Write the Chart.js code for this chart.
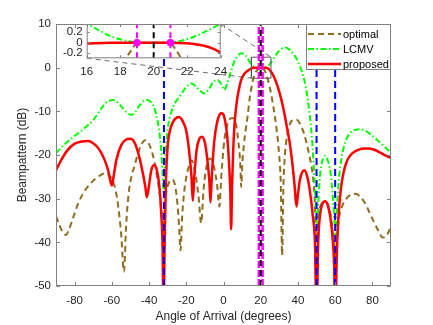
<!DOCTYPE html>
<html>
<head>
<meta charset="utf-8">
<script src="https://cdn.jsdelivr.net/npm/chart.js@4.4.1/dist/chart.umd.min.js"></script>
<style>
  body { margin: 0; background: #fff; }
  #wrap { position: relative; width: 433px; height: 325px; }
  #wrap canvas { position: absolute; left: 0; top: 0; }
</style>
</head>
<body>
<div id="wrap">
  <canvas id="mainChart" width="433" height="325"></canvas>
  <canvas id="zoomChart" width="433" height="325"></canvas>
</div>
<script>
// Axes
const xTicks = [-80, -60, -40, -20, 0, 20, 40, 60, 80];
const yTicks = [-50, -40, -30, -20, -10, 0, 10];
const xRange = [-90, 90];
const yRange = [-50, 10];

// Inset axes
const zoomXTicks = [16, 18, 20, 22, 24];
const zoomYTicks = [-0.2, 0, 0.2];
const zoomXRange = [16, 24];
const zoomYRange = [-0.3, 0.36];

// Reference lines / markers
const interfAngles = [-32, 50, 60];
const targetAngle = 20;
const constraintAngles = [19, 21];
const constraintGain = [0, 0];
const boxX = [15, 25.5];
const boxY = [-2.4, 2.4];

// optimal
const optAngles = [-90, -88, -86.5, -84.6, -83, -80.5, -78, -75, -72, -69, -66, -63.8, -61.5, -59.5, -58, -56.5, -55, -53.5, -52.3, -51, -49.5, -47.8, -46, -44, -42.1, -40.3, -38.5, -37, -35.5, -34.4, -33.3, -32.5, -31.6, -30.5, -29.3, -27.5, -26, -24.8, -23.9, -23.1, -22.2, -21, -19.6, -18.2, -17.2, -16, -14.8, -13.4, -12, -10.8, -9.5, -8.3, -7.2, -6, -4.7, -3.4, -2.2, -1.2, 0, 1.2, 2.5, 4, 5.5, 6.8, 8, 9, 9.5, 10.1, 11, 12, 13, 14, 15, 16, 17, 18, 18.4, 18.7, 19, 20, 21, 21.3, 21.6, 22, 23, 24, 25.5, 27, 28.5, 29.8, 30.8, 31.5, 32.2, 33, 34.2, 35.8, 37.5, 39.5, 41.5, 43.2, 44.8, 46.3, 47.9, 49, 49.8, 50.7, 51.6, 53, 55, 56.8, 58.3, 59.2, 60, 60.8, 62, 63.5, 65.5, 68, 71, 73.5, 76, 78.5, 81, 83.5, 85.5, 87.5, 90];
const optGain = [-34, -36.2, -37.6, -38.3, -37, -34, -31, -28.5, -26.8, -25.5, -24.6, -24.2, -24.6, -26, -28, -32, -38, -46.7, -36, -29, -25, -22.5, -19.7, -17.5, -16.6, -17.3, -19.2, -21.8, -25.5, -28.5, -33, -37, -32, -28, -26.3, -25.6, -27, -31, -36, -41.8, -34, -28, -24.3, -22, -21.2, -22.3, -25, -29.5, -35.6, -28.5, -23.5, -21.4, -20.8, -21.3, -23.5, -27, -31.8, -25, -18.5, -14.5, -12.5, -11.6, -11.6, -13.2, -17, -22, -27.3, -22, -17.5, -14, -11, -7.2, -4.6, -2.6, -1.3, -0.6, -0.28, -0.13, -0.01, 0, -0.01, -0.13, -0.28, -0.55, -1.6, -3, -5.8, -9.5, -14, -19.5, -27, -43, -27, -20, -15.5, -12.8, -12, -12, -13.2, -15, -17.6, -20.5, -24.4, -30, -40, -36, -32.5, -31, -30.8, -32.2, -36, -40, -45, -40, -34.5, -32, -30.3, -29.2, -28.9, -29.6, -31, -33.2, -35.5, -37.6, -38.9, -38.5, -36.5];

// LCMV
const lcmvAngles = [-90, -86, -82, -78, -74, -70, -67, -64, -61.5, -59.5, -57, -54.5, -52, -49.5, -47.5, -45, -42.5, -40.7, -39, -37, -35.3, -34, -33, -32.2, -31.4, -30.5, -29.5, -28, -26, -23.6, -21, -19, -17.4, -15.5, -13, -10.2, -8, -5.5, -3.1, -1.2, 0.5, 2, 4, 6, 8, 9.8, 12, 14, 16, 17, 18, 19, 20, 21, 22, 23, 24, 26, 28, 30, 32.7, 35, 37.5, 40, 42, 43.5, 45, 46.2, 47.5, 48.8, 49.6, 50.2, 50.9, 51.8, 53, 54.6, 56, 57.5, 58.8, 59.6, 60.2, 61, 62, 63.5, 65.5, 68, 71, 73.5, 76, 80, 84, 87, 90];
const lcmvGain = [-19.6, -17.8, -16.3, -15, -13.6, -12, -10.2, -8.4, -7.6, -7.4, -7.9, -9.1, -10.3, -10.8, -10.2, -8.6, -7.5, -7.4, -7.9, -9.4, -12.5, -16.5, -22, -28.5, -22, -16, -12.7, -10, -8, -6.6, -5, -4, -3.6, -4, -5.1, -5.9, -5, -3.3, -2.8, -3.8, -5.1, -3.6, -0.9, 1.6, 2.9, 3.3, 2.7, 1.4, 0.37, 0.19, 0.065, 0.005, 0, 0.005, 0.07, 0.2, 0.37, 1.5, 2.8, 3.9, 4.6, 4.3, 3.2, 1.4, -0.8, -3, -6.5, -10.4, -16, -25, -32, -36.5, -31, -25, -21.5, -20.2, -21.2, -24, -30, -35, -38.5, -32, -25.5, -20.5, -17, -15, -14.2, -14.1, -14.4, -15.6, -17.1, -18.3, -19.5];

// proposed
const propAngles = [-90, -87, -84, -80, -76, -73, -70, -67, -64, -62, -60.5, -60, -59.3, -57.5, -55, -52.5, -50, -48, -46, -44, -42, -41.2, -40.2, -38.8, -37.2, -35.8, -34.5, -33.5, -32.7, -32.2, -31.7, -31, -30, -28.5, -26.5, -24, -22, -20, -18.5, -17.2, -16.5, -15.7, -14.5, -13, -11.5, -10, -8.7, -7.6, -7, -6.3, -5, -3.5, -2, -0.9, 0, 1, 2, 3, 3.7, 4.1, 4.6, 5.3, 6, 7, 8, 9.5, 11, 13, 15, 16, 18, 20, 22, 24, 26, 28, 30, 32, 34, 35.5, 37, 38.2, 39.2, 40, 41, 42.2, 43.5, 45, 46.5, 48, 49.2, 50, 50.8, 51.8, 53, 54.6, 56, 57.5, 58.8, 59.5, 60.1, 60.8, 61.8, 63, 64.5, 66.5, 69, 72, 75, 78, 81, 84, 87, 90];
const propGain = [-23.5, -21, -19, -17.4, -16.9, -16.8, -17.3, -18.6, -21, -23.5, -26.5, -27, -25.5, -21, -17.8, -16.5, -16.3, -17, -19.3, -22.8, -27.3, -29.7, -27.5, -23.5, -22.3, -23.5, -27, -33, -42, -60, -42, -27, -18, -14, -12, -11.3, -12.2, -14.5, -19, -25, -30.5, -25, -19, -16.3, -15.8, -17.2, -21, -26, -30.8, -25, -17, -12.6, -10.7, -10.4, -10.8, -12.5, -15.8, -22, -29, -37, -27, -18, -12.5, -8.3, -5.5, -2.8, -1.5, -0.7, -0.2, -0.02, 0, 0, -0.01, -0.18, -1.2, -3, -5.6, -9, -13.5, -17, -22, -27, -31.8, -29, -25.8, -24, -23.5, -25, -28.5, -34, -41, -60, -41, -34, -31.3, -30.6, -31.5, -34.5, -40, -46, -60, -44, -34, -28, -24, -21.2, -19.7, -18.9, -18.5, -18.5, -18.8, -19.4, -20.1, -20.7];

// inset (16..24 deg, fine readout)
const zoomOptAngles = [17.5, 18, 18.4, 18.7, 19, 19.5, 20, 20.5, 21, 21.3, 21.6, 22, 22.4];
const zoomOptGain = [-0.95, -0.6, -0.28, -0.13, -0.01, 0, 0, 0, -0.01, -0.13, -0.28, -0.55, -0.9];
const zoomLcmvAngles = [15.8, 16, 16.5, 17, 17.5, 18, 18.5, 19, 19.5, 20, 20.5, 21, 21.5, 22, 22.5, 23, 23.5, 24, 24.2];
const zoomLcmvGain = [0.42, 0.37, 0.28, 0.19, 0.12, 0.065, 0.03, 0.006, 0, 0, 0, 0.006, 0.03, 0.07, 0.13, 0.2, 0.28, 0.37, 0.42];
const zoomPropAngles = [16, 16.5, 17, 17.5, 18, 19, 20, 21, 21.5, 22, 22.5, 23, 23.5, 24];
const zoomPropGain = [-0.02, -0.012, -0.006, -0.002, 0, 0, 0, 0, -0.004, -0.012, -0.03, -0.06, -0.11, -0.19];

const FONT = '"Liberation Sans", Arial, Helvetica, sans-serif';
const TXT = '#262626';
const AXIS = '#808080';
const optStyle = { color: '#8f6c1e', dash: [6, 4], width: 2 };
const lcmvStyle = { color: '#00ff00', dash: [6, 2.5, 1.5, 2.5], width: 2 };
const propStyle = { color: '#ff0000', dash: [], width: 2.5 };

Chart.defaults.font.family = FONT;
Chart.defaults.color = TXT;

function pts(xs, ys) {
  return xs.map((x, i) => ({ x: x, y: ys[i] }));
}
function vline(a, range) {
  return [{ x: a, y: range[0] }, { x: a, y: range[1] }];
}
function curve(label, xs, ys, st) {
  return {
    label: label, data: pts(xs, ys), borderColor: st.color, borderWidth: st.width,
    borderDash: st.dash, pointRadius: 0, cubicInterpolationMode: 'monotone', clip: 0
  };
}
function refLine(data, color, dash, width) {
  return { data: data, borderColor: color, borderDash: dash, borderWidth: width, pointRadius: 0, clip: 0 };
}

// frame + inward ticks, like a boxed matlab axes
function drawFrame(chart, len) {
  const { ctx, chartArea: a, scales } = chart;
  ctx.save();
  ctx.strokeStyle = AXIS;
  ctx.lineWidth = 1;
  ctx.setLineDash([]);
  const l = a.left + 0.5, r = a.right - 0.5, t = a.top + 0.5, b = a.bottom - 0.5;
  ctx.strokeRect(l, t, r - l, b - t);
  ctx.beginPath();
  scales.x.ticks.forEach(tk => {
    const px = Math.round(scales.x.getPixelForValue(tk.value)) + 0.5;
    ctx.moveTo(px, b); ctx.lineTo(px, b - len);
    ctx.moveTo(px, t); ctx.lineTo(px, t + len);
  });
  scales.y.ticks.forEach(tk => {
    const py = Math.round(scales.y.getPixelForValue(tk.value)) + 0.5;
    ctx.moveTo(l, py); ctx.lineTo(l + len, py);
    ctx.moveTo(r, py); ctx.lineTo(r - len, py);
  });
  ctx.stroke();
  ctx.restore();
}

// inset placement on the page (pixels)
const insetBox = { left: 86.7, top: 24, right: 220.7, bottom: 58.3 };

const mainPlugin = {
  id: 'mainDecor',
  afterDraw(chart) {
    const { ctx, chartArea: a, scales } = chart;
    // connector lines from inset to zoom box
    ctx.save();
    ctx.strokeStyle = '#444';
    ctx.lineWidth = 0.8;
    ctx.setLineDash([5, 4]);
    ctx.beginPath();
    ctx.moveTo(insetBox.right, insetBox.top);
    ctx.lineTo(scales.x.getPixelForValue(boxX[1]), scales.y.getPixelForValue(boxY[1]));
    ctx.moveTo(insetBox.left, insetBox.bottom);
    ctx.lineTo(scales.x.getPixelForValue(boxX[0]), scales.y.getPixelForValue(boxY[0]));
    ctx.stroke();
    ctx.restore();

    drawFrame(chart, 3.5);

    // legend
    const lx = 306, ly = a.top, lw = a.right - 306, lh = 46;
    ctx.save();
    ctx.fillStyle = '#fff';
    ctx.fillRect(lx, ly, lw, lh);
    ctx.strokeStyle = AXIS;
    ctx.lineWidth = 1;
    ctx.strokeRect(lx + 0.5, ly + 0.5, lw - 1, lh - 1);
    const items = [['optimal', optStyle], ['LCMV', lcmvStyle], ['proposed', propStyle]];
    ctx.font = '11px ' + FONT;
    ctx.textBaseline = 'middle';
    items.forEach((it, i) => {
      const y = ly + 10 + i * 15;
      ctx.strokeStyle = it[1].color;
      ctx.lineWidth = it[1].width;
      ctx.setLineDash(it[1].dash);
      ctx.beginPath();
      ctx.moveTo(lx + 2, y);
      ctx.lineTo(lx + 35, y);
      ctx.stroke();
      ctx.fillStyle = '#000';
      ctx.fillText(it[0], lx + 37, y + 0.5);
    });
    ctx.restore();
  }
};

const mainDatasets = [];
interfAngles.forEach(a => mainDatasets.push(refLine(vline(a, yRange), '#0000ff', [7, 4], 2)));
mainDatasets.push(refLine(vline(targetAngle, yRange), '#000000', [6, 4], 2));
constraintAngles.forEach(a => mainDatasets.push(refLine(vline(a, yRange), '#ff00ff', [7, 2], 2.5)));
mainDatasets.push(refLine([
  { x: boxX[0], y: boxY[0] }, { x: boxX[1], y: boxY[0] }, { x: boxX[1], y: boxY[1] },
  { x: boxX[0], y: boxY[1] }, { x: boxX[0], y: boxY[0] }
], '#555', [], 1));
mainDatasets.push(curve('proposed', propAngles, propGain, propStyle));
mainDatasets.push(curve('LCMV', lcmvAngles, lcmvGain, lcmvStyle));
mainDatasets.push(curve('optimal', optAngles, optGain, optStyle));

new Chart(document.getElementById('mainChart'), {
  type: 'line',
  data: { datasets: mainDatasets },
  options: {
    responsive: false,
    animation: false,
    devicePixelRatio: 1,
    layout: { padding: { top: 24, right: 42, left: 0, bottom: 0 } },
    plugins: { legend: { display: false }, tooltip: { enabled: false } },
    scales: {
      x: {
        type: 'linear', min: xRange[0], max: xRange[1],
        grid: { display: false, drawTicks: false }, border: { display: false },
        ticks: { padding: 8, font: { size: 11.5 }, color: TXT, maxRotation: 0 },
        afterBuildTicks: s => { s.ticks = xTicks.map(v => ({ value: v })); },
        afterFit: s => { s.height = 39; },
        title: { display: true, text: 'Angle of Arrival (degrees)', font: { size: 12 }, color: TXT, padding: { top: 0, bottom: 1 } }
      },
      y: {
        type: 'linear', min: yRange[0], max: yRange[1],
        grid: { display: false, drawTicks: false }, border: { display: false },
        ticks: { padding: 5, font: { size: 11.5 }, color: TXT },
        afterBuildTicks: s => { s.ticks = yTicks.map(v => ({ value: v })); },
        afterFit: s => { s.width = 56; },
        title: { display: true, text: 'Beampattern (dB)', font: { size: 12 }, color: TXT, padding: { top: 15, bottom: 0 } }
      }
    }
  },
  plugins: [mainPlugin]
});

// inset chart
const insetPlugin = {
  id: 'insetDecor',
  beforeDatasetsDraw(chart) {
    const { ctx, chartArea: a } = chart;
    ctx.save();
    ctx.fillStyle = '#fff';
    ctx.fillRect(a.left, a.top, a.width, a.height);
    ctx.restore();
  },
  afterDraw(chart) { drawFrame(chart, 2.5); }
};

const zoomDatasets = [
  { data: pts(constraintAngles, constraintGain), showLine: false, pointRadius: 3.4,
    pointBackgroundColor: '#ff00ff', pointBorderColor: '#ff00ff', clip: 0 },
  refLine(vline(targetAngle, zoomYRange), '#000000', [6, 4], 2),
  refLine(vline(constraintAngles[0], zoomYRange), '#ff00ff', [6, 4], 2),
  refLine(vline(constraintAngles[1], zoomYRange), '#ff00ff', [6, 4], 2),
  curve('proposed', zoomPropAngles, zoomPropGain, propStyle),
  curve('LCMV', zoomLcmvAngles, zoomLcmvGain, lcmvStyle),
  curve('optimal', zoomOptAngles, zoomOptGain, optStyle)
];

new Chart(document.getElementById('zoomChart'), {
  type: 'line',
  data: { datasets: zoomDatasets },
  options: {
    responsive: false,
    animation: false,
    devicePixelRatio: 1,
    events: [],
    layout: { padding: { top: insetBox.top, left: insetBox.left - 30, right: 433 - insetBox.right, bottom: 325 - insetBox.bottom - 20 } },
    plugins: { legend: { display: false }, tooltip: { enabled: false } },
    scales: {
      x: {
        type: 'linear', min: zoomXRange[0], max: zoomXRange[1],
        grid: { display: false, drawTicks: false }, border: { display: false },
        ticks: { padding: 7, font: { size: 11.5 }, color: TXT, maxRotation: 0, autoSkip: false },
        afterBuildTicks: s => { s.ticks = zoomXTicks.map(v => ({ value: v })); },
        afterFit: s => { s.height = 20; }
      },
      y: {
        type: 'linear', min: zoomYRange[0], max: zoomYRange[1],
        grid: { display: false, drawTicks: false }, border: { display: false },
        ticks: { padding: 4, font: { size: 11.5 }, color: TXT, autoSkip: false },
        afterBuildTicks: s => { s.ticks = zoomYTicks.map(v => ({ value: v })); },
        afterFit: s => { s.width = 30; }
      }
    }
  },
  plugins: [insetPlugin]
});
</script>
</body>
</html>
